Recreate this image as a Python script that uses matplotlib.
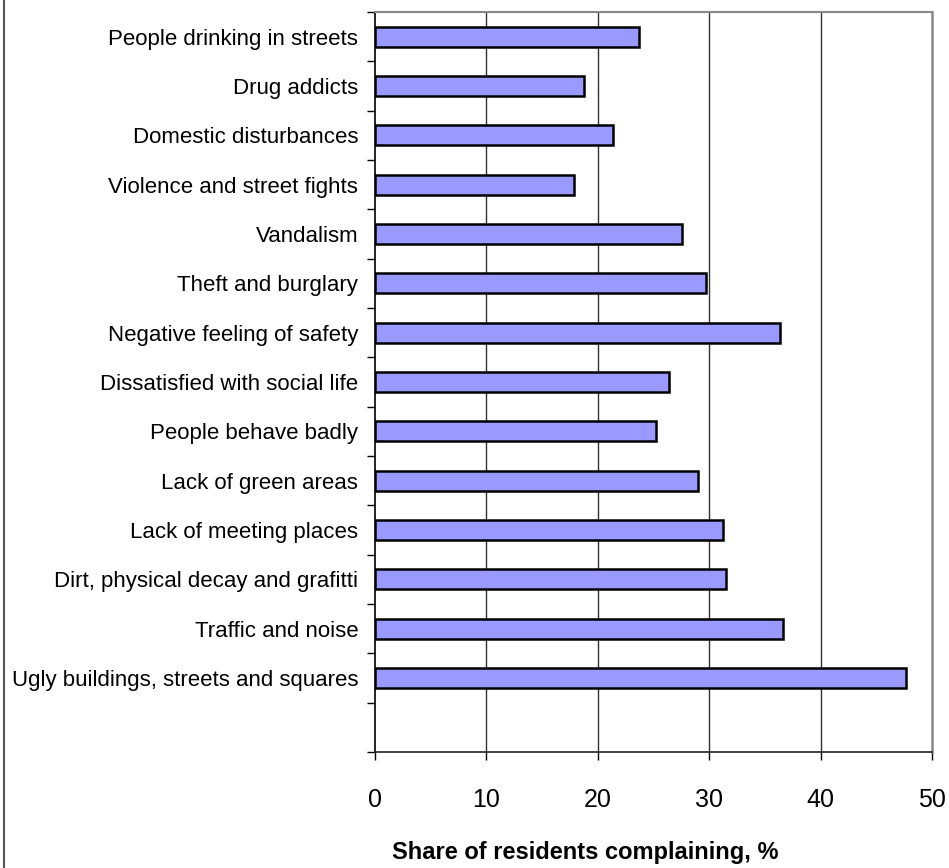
import matplotlib
matplotlib.use("Agg")
import matplotlib.pyplot as plt
from matplotlib.lines import Line2D

categories = [
    "",
    "Ugly buildings, streets and squares",
    "Traffic and noise",
    "Dirt, physical decay and grafitti",
    "Lack of meeting places",
    "Lack of green areas",
    "People behave badly",
    "Dissatisfied with social life",
    "Negative feeling of safety",
    "Theft and burglary",
    "Vandalism",
    "Violence and street fights",
    "Domestic disturbances",
    "Drug addicts",
    "People drinking in streets",
]
values = [None, 47.7, 36.6, 31.5, 31.2, 29.0, 25.2, 26.4, 36.4, 29.7, 27.6, 17.9, 21.4, 18.8, 23.7]
xticks = [0, 10, 20, 30, 40, 50]
xlabel = "Share of residents complaining, %"

plt.rcParams['font.family'] = ['Liberation Sans', 'DejaVu Sans']

W, H = 949, 868
fig = plt.figure(figsize=(W / 100, H / 100), dpi=100)
ax = fig.add_axes([375 / W, 1 - 752 / H, (932 - 375) / W, (752 - 12) / H])

ys = [i for i, v in enumerate(values) if v is not None]
vs = [v for v in values if v is not None]
ax.barh(ys, vs, height=0.41, color='#9999FF', edgecolor='black', linewidth=1.8, zorder=3)

ax.set_xlim(0, 50)
ax.set_ylim(-0.5, len(categories) - 0.5)

ax.set_xticks(xticks)
ax.set_xticklabels([str(t) for t in xticks], fontsize=18)
ax.tick_params(axis='x', direction='out', length=6, width=1, pad=20, color='black')

ax.set_yticks(range(len(categories)))
ax.set_yticklabels(categories, fontsize=16)
ax.tick_params(axis='y', which='major', length=0, pad=12)
ax.set_yticks([i - 0.5 for i in range(len(categories) + 1)], minor=True)
ax.tick_params(axis='y', which='minor', direction='out', length=6, width=1, color='black')

for x in xticks[1:-1]:
    ax.axvline(x, color='#333333', linewidth=1.0, zorder=1)

ax.spines['left'].set_color('black')
ax.spines['left'].set_linewidth(1.2)
ax.spines['bottom'].set_color('#222222')
ax.spines['bottom'].set_linewidth(1.2)
ax.spines['top'].set_color('#888888')
ax.spines['top'].set_linewidth(1.5)
ax.spines['right'].set_color('#888888')
ax.spines['right'].set_linewidth(1.8)

fig.text(585 / W, 1 - 853 / H, xlabel, ha='center', va='center', fontsize=17, fontweight='bold')

fig.add_artist(Line2D([3.5 / W, 3.5 / W], [0, 1], transform=fig.transFigure, color='#555555', linewidth=1.5))

fig.savefig('out.png', dpi=100)
